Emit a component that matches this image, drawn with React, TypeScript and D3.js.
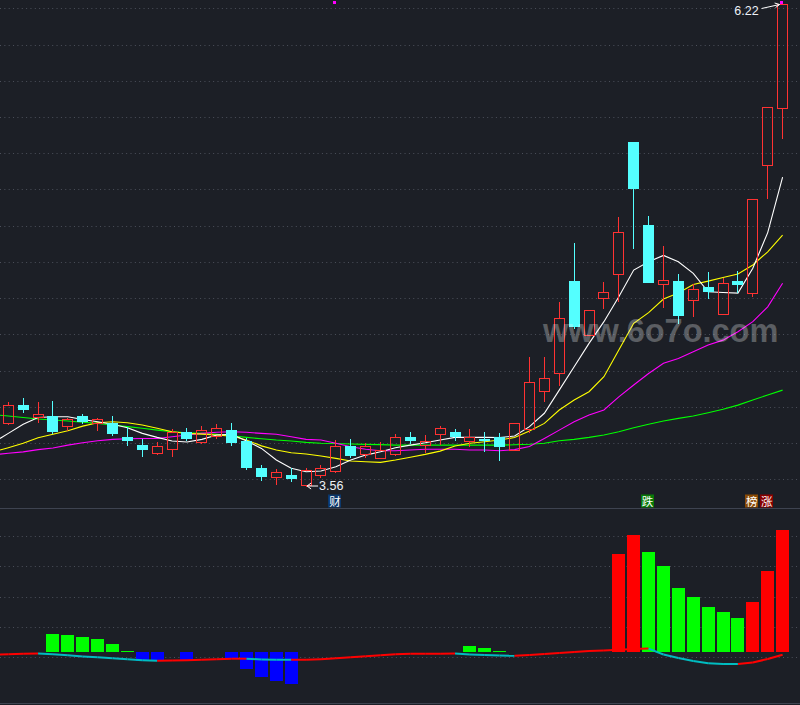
import React from 'react';
import * as d3 from 'd3';

const W = 800;
const H = 705;
const BG = '#1c1f26';

// ---- daily candles (53 sessions) ----
const opens = [3.908, 4.004, 3.94, 3.944, 3.89, 3.944, 3.903, 3.903, 3.828, 3.783, 3.741, 3.763, 3.857, 3.802, 3.835, 3.865, 3.806, 3.656, 3.605, 3.618, 3.562, 3.617, 3.641, 3.778, 3.732, 3.713, 3.732, 3.829, 3.783, 3.843, 3.854, 3.806, 3.817, 3.829, 3.756, 3.87, 4.083, 4.183, 4.689, 4.391, 4.594, 4.728, 5.458, 4.997, 4.674, 4.689, 4.583, 4.654, 4.505, 4.689, 4.626, 5.333, 5.647];
const highs = [4.023, 4.045, 4.021, 4.026, 3.934, 3.955, 3.934, 3.944, 3.885, 3.817, 3.8, 3.87, 3.876, 3.888, 3.899, 3.905, 3.82, 3.673, 3.649, 3.658, 3.658, 3.673, 3.811, 3.815, 3.793, 3.798, 3.843, 3.855, 3.839, 3.888, 3.872, 3.872, 3.853, 3.848, 3.905, 4.271, 4.271, 4.575, 4.901, 4.531, 4.682, 5.041, 5.458, 5.048, 4.883, 4.728, 4.671, 4.737, 4.704, 4.745, 5.14, 5.65, 6.22];
const lows = [3.898, 3.959, 3.913, 3.844, 3.866, 3.898, 3.866, 3.835, 3.78, 3.719, 3.734, 3.724, 3.804, 3.793, 3.82, 3.78, 3.645, 3.586, 3.566, 3.581, 3.56, 3.605, 3.636, 3.71, 3.719, 3.71, 3.728, 3.789, 3.746, 3.787, 3.807, 3.78, 3.746, 3.698, 3.754, 3.857, 4.026, 4.115, 4.426, 4.389, 4.539, 4.582, 4.866, 4.68, 4.547, 4.45, 4.498, 4.588, 4.505, 4.623, 4.606, 5.147, 5.481];
const closes = [4.004, 3.977, 3.955, 3.855, 3.927, 3.912, 3.927, 3.844, 3.806, 3.756, 3.776, 3.857, 3.817, 3.865, 3.876, 3.796, 3.658, 3.608, 3.634, 3.597, 3.645, 3.655, 3.78, 3.724, 3.778, 3.756, 3.826, 3.807, 3.804, 3.876, 3.829, 3.829, 3.807, 3.772, 3.903, 4.133, 4.152, 4.483, 4.435, 4.529, 4.627, 4.958, 5.198, 4.68, 4.693, 4.498, 4.644, 4.63, 4.677, 4.669, 5.14, 5.65, 6.22];

// ---- moving averages ----
const ma5 = [3.848, 3.898, 3.936, 3.94, 3.94, 3.925, 3.912, 3.898, 3.879, 3.848, 3.826, 3.806, 3.8, 3.815, 3.839, 3.843, 3.806, 3.765, 3.701, 3.655, 3.636, 3.64, 3.664, 3.701, 3.728, 3.746, 3.769, 3.783, 3.796, 3.811, 3.826, 3.826, 3.826, 3.825, 3.833, 3.885, 3.959, 4.087, 4.216, 4.345, 4.465, 4.603, 4.75, 4.796, 4.831, 4.796, 4.732, 4.63, 4.626, 4.623, 4.76, 4.957, 5.264];
const ma10 = [3.769, 3.793, 3.824, 3.843, 3.862, 3.888, 3.907, 3.912, 3.907, 3.894, 3.876, 3.857, 3.848, 3.844, 3.839, 3.833, 3.811, 3.779, 3.756, 3.741, 3.734, 3.723, 3.71, 3.695, 3.691, 3.688, 3.701, 3.716, 3.732, 3.75, 3.778, 3.793, 3.802, 3.811, 3.825, 3.861, 3.903, 3.977, 4.032, 4.078, 4.161, 4.308, 4.456, 4.515, 4.59, 4.623, 4.67, 4.689, 4.709, 4.728, 4.778, 4.851, 4.943];
const ma20 = [3.738, 3.746, 3.758, 3.767, 3.783, 3.796, 3.807, 3.815, 3.818, 3.82, 3.82, 3.829, 3.839, 3.848, 3.854, 3.857, 3.854, 3.848, 3.843, 3.829, 3.815, 3.811, 3.793, 3.774, 3.76, 3.752, 3.752, 3.756, 3.76, 3.76, 3.76, 3.756, 3.756, 3.752, 3.758, 3.775, 3.82, 3.866, 3.912, 3.949, 3.977, 4.05, 4.115, 4.179, 4.235, 4.262, 4.299, 4.336, 4.363, 4.409, 4.465, 4.547, 4.677];
const ma60 = [3.944, 3.936, 3.927, 3.922, 3.916, 3.909, 3.903, 3.894, 3.885, 3.876, 3.866, 3.857, 3.851, 3.848, 3.843, 3.835, 3.826, 3.818, 3.811, 3.806, 3.798, 3.793, 3.792, 3.789, 3.787, 3.786, 3.783, 3.783, 3.783, 3.783, 3.783, 3.783, 3.783, 3.783, 3.785, 3.788, 3.793, 3.807, 3.815, 3.826, 3.839, 3.857, 3.879, 3.898, 3.916, 3.931, 3.944, 3.962, 3.981, 4.004, 4.032, 4.06, 4.087];

// ---- lower indicator ----
const barVals: (number | null)[] = [null, null, null, 1.77, 1.67, 1.47, 1.27, 0.77, 0.1, -0.9, -0.9, null, -0.93, null, null, -0.75, -1.73, -2.53, -2.93, -3.2, null, null, null, null, null, null, null, null, null, null, null, 0.57, 0.37, 0.1, null, null, null, null, null, null, null, 9.77, 11.67, 9.97, 8.57, 6.37, 5.47, 4.47, 3.97, 3.37, 4.97, 8.07, 12.17];
const barKinds = '...GGGGGGBB.B..BBBBB...........GGG.......RRGGGGGGGRRR';
const lineVals = [-0.25, -0.2, -0.19, -0.26, -0.35, -0.48, -0.55, -0.66, -0.75, -0.85, -0.91, -0.88, -0.85, -0.8, -0.75, -0.7, -0.7, -0.78, -0.8, -0.81, -0.8, -0.75, -0.65, -0.55, -0.45, -0.35, -0.25, -0.21, -0.2, -0.195, -0.19, -0.27, -0.33, -0.39, -0.41, -0.33, -0.23, -0.13, -0.03, 0.07, 0.11, 0.19, 0.27, 0.31, -0.28, -0.63, -0.93, -1.16, -1.23, -1.24, -1.08, -0.73, -0.3];

// ---- signal labels / markers ----
const signalIdx = [22, 43, 50, 51];
const signalText = ['财', '跌', '榜', '涨'];
const markerIdx = [22, 52];
const highIdx = 52;
const lowIdx = 20;
const watermark = 'www.6o7o.com';

const N = closes.length;
const UP = '#ff3232';
const DOWN = '#54ffff';
const signalBg = ['#0b386c', '#087a08', '#8a4a05', '#880000'];
const barColor: Record<string, string> = { G: '#00ff00', R: '#ff0000', B: '#0000ff' };

export default function App() {
  React.useEffect(() => {
    document.body.style.margin = '0';
    document.body.style.background = BG;
  }, []);

  const x = d3.scaleLinear().domain([0, N - 1]).range([8.3, 782.6]);
  const y = d3.scaleLinear().domain([3.56, 6.22]).range([485.5, 4]);
  const yl = d3.scaleLinear().domain([0, 12]).range([651.7, 531.7]);

  const topGrid = d3.range(14).map((i) => 8.3 + (i * (479.2 - 8.3)) / 13);
  const lowGrid = d3.range(5).map((i) => 536 + i * 30.25);

  const withLeadIn = (vals: number[], ys: (v: number) => number): [number, number][] => {
    const pts: [number, number][] = vals.map((v, i) => [x(i), ys(v)]);
    const [x0, y0] = pts[0];
    const [x1, y1] = pts[1];
    const yStart = y0 - ((y1 - y0) * x0) / (x1 - x0);
    return [[0, yStart], ...pts];
  };
  const line = d3.line<[number, number]>();

  const mas = [
    { vals: ma60, color: '#00ff00' },
    { vals: ma20, color: '#ff00ff' },
    { vals: ma10, color: '#ffff00' },
    { vals: ma5, color: '#ffffff' },
  ];

  const lowPts = withLeadIn(lineVals, (v) => yl(v));

  const hx = x(highIdx);
  const hy = y(highs[highIdx]);
  const lx = x(lowIdx);
  const ly = y(lows[lowIdx]);
  const fmt = d3.format('.2f');

  return (
    <svg width={W} height={H} style={{ position: 'absolute', left: 0, top: 0, background: BG }}>
      <rect x={0} y={0} width={W} height={H} fill={BG} />
      {/* grids */}
      {topGrid.map((g, i) => (
        <line key={'tg' + i} x1={0} x2={W} y1={Math.round(g) + 0.5} y2={Math.round(g) + 0.5} stroke="#4c505b" strokeDasharray="1 3.35" />
      ))}
      {lowGrid.map((g, i) => (
        <line key={'lg' + i} x1={0} x2={W} y1={Math.round(g) + 0.5} y2={Math.round(g) + 0.5} stroke="#4c505b" strokeDasharray="1 3.35" />
      ))}
      <line x1={0} x2={W} y1={508.5} y2={508.5} stroke="#3e4350" strokeWidth={1} />
      <line x1={0} x2={W} y1={703.5} y2={703.5} stroke="#3e4350" strokeWidth={1} />

      {/* moving averages */}
      {mas.map((m, k) => (
        <path key={'ma' + k} d={line(withLeadIn(m.vals, (v) => y(v))) || ''} fill="none" stroke={m.color} strokeWidth={1.1} />
      ))}

      {/* candles */}
      <g shapeRendering="crispEdges">
        {closes.map((c, i) => {
          const o = opens[i];
          const cxi = Math.floor(x(i));
          const up = c >= o;
          const top = Math.round(y(Math.max(o, c)));
          const bot = Math.max(Math.round(y(Math.min(o, c))), top + 2);
          const hiY = Math.round(y(highs[i]));
          const loY = Math.round(y(lows[i]));
          const L = cxi - 5;
          const h = bot - top;
          if (up) {
            const frame = `M${L},${top}h11v${h + 1}h-11Z M${L + 1},${top + 1}v${h - 1}h9v${-(h - 1)}Z`;
            return (
              <g key={'c' + i}>
                {hiY < top && <rect x={cxi} y={hiY} width={1} height={top - hiY} fill={UP} />}
                {loY > bot && <rect x={cxi} y={bot + 1} width={1} height={loY - bot} fill={UP} />}
                <path d={frame} fill={UP} fillRule="evenodd" />
              </g>
            );
          }
          return (
            <g key={'c' + i}>
              <rect x={cxi} y={hiY} width={1} height={Math.max(loY - hiY, 1)} fill={DOWN} />
              <rect x={L} y={top} width={11} height={Math.max(bot - top, 1)} fill={DOWN} />
            </g>
          );
        })}
      </g>

      {/* markers at top */}
      {markerIdx.map((i) => (
        <rect key={'mk' + i} x={Math.floor(x(i)) - 2} y={1} width={3} height={3} fill="#ff00ff" />
      ))}

      {/* high label */}
      <line x1={hx - 21} y1={hy + 4.5} x2={hx - 3} y2={hy + 0.5} stroke="#ffffff" strokeWidth={1} />
      <path d={`M${hx - 3},${hy + 0.5} l-5,-1.5 M${hx - 3},${hy + 0.5} l-4,3`} stroke="#ffffff" strokeWidth={1} fill="none" />
      <text x={hx - 24} y={hy + 11} textAnchor="end" fontFamily="Liberation Sans, Arial, sans-serif" fontSize={12.5} fill="#eef2f6">
        {fmt(highs[highIdx])}
      </text>

      {/* low label */}
      <line x1={lx + 1} y1={ly + 0.5} x2={lx + 12} y2={ly + 0.5} stroke="#ffffff" strokeWidth={1} />
      <path d={`M${lx + 1},${ly + 0.5} l4,-3 M${lx + 1},${ly + 0.5} l4,3`} stroke="#ffffff" strokeWidth={1} fill="none" />
      <text x={lx + 13} y={ly + 4.3} fontFamily="Liberation Sans, Arial, sans-serif" fontSize={12.5} fill="#eef2f6">
        {fmt(lows[lowIdx])}
      </text>

      {/* signal labels */}
      {signalIdx.map((i, k) => {
        const cx = x(i) - 1;
        return (
          <g key={'sg' + k}>
            <rect x={Math.round(cx - 6.5)} y={494.5} width={13} height={13} fill={signalBg[k]} />
            <text x={cx} y={506} textAnchor="middle" fontFamily="Noto Sans CJK SC, sans-serif" fontSize={11.5} fill="#ffffff">
              {signalText[k]}
            </text>
          </g>
        );
      })}

      {/* lower bars */}
      <g shapeRendering="crispEdges">
        {barVals.map((v, i) => {
          if (v === null) return null;
          const k = barKinds[i];
          const y0 = yl(0);
          const y1 = yl(v);
          const top = Math.min(y0, y1);
          const h = Math.max(Math.abs(y1 - y0), 1);
          return <rect key={'b' + i} x={Math.floor(x(i)) - 6} y={top} width={13} height={h} fill={barColor[k]} />;
        })}
      </g>

      {/* lower line */}
      {lowPts.slice(1).map((p, j) => {
        const prev = lowPts[j];
        const vi = j;
        const rising = vi === 0 ? true : lineVals[vi] >= lineVals[vi - 1];
        return (
          <line key={'ll' + j} x1={prev[0]} y1={prev[1]} x2={p[0]} y2={p[1]} stroke={rising ? '#ff0000' : '#00bcc0'} strokeWidth={2} />
        );
      })}

      {/* watermark */}
      <text x={543} y={342} fontFamily="Liberation Sans, Arial, sans-serif" fontWeight="bold" fontSize={32.5} fill="#ffffff" fillOpacity={0.28}>
        {watermark}
      </text>
    </svg>
  );
}
